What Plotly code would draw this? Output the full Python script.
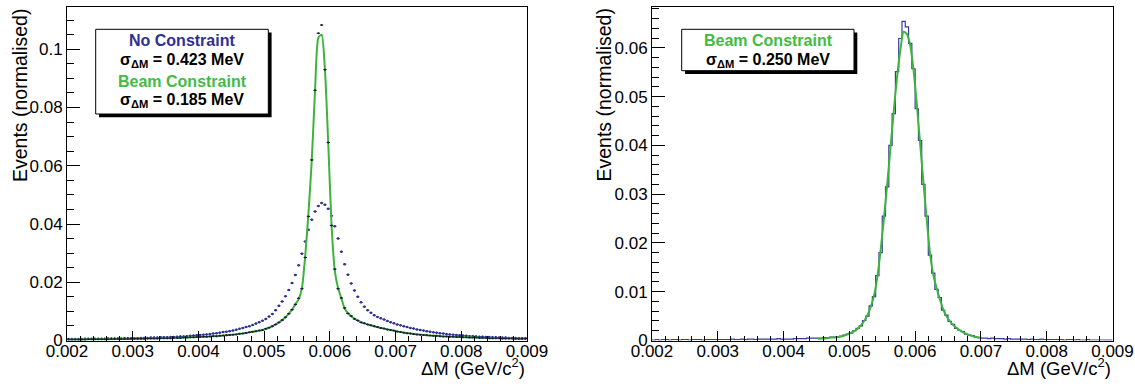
import numpy as np
import plotly.graph_objects as go

# ---------------- data ----------------
# histogram binning: 140 bins of 0.05 MeV between 0.002 and 0.009 GeV/c^2
bin_edges = np.round(np.linspace(0.002, 0.009, 141), 6)
bin_centers = np.round(0.5 * (bin_edges[:-1] + bin_edges[1:]), 7)

# Left panel: "No Constraint" (points)
no_constraint = [
    0.0005, 0.0005, 0.0005, 0.0005, 0.0005, 0.0006, 0.0006, 0.0006, 0.0006, 0.0006,
    0.0006, 0.0006, 0.0007, 0.0007, 0.0007, 0.0007, 0.0007, 0.0008, 0.0008, 0.0008,
    0.0008, 0.0008, 0.0009, 0.0009, 0.0009, 0.0010, 0.0010, 0.0010, 0.0011, 0.0011,
    0.0011, 0.0012, 0.0012, 0.0013, 0.0014, 0.0014, 0.0015, 0.0016, 0.0017, 0.0018,
    0.0019, 0.0020, 0.0021, 0.0022, 0.0024, 0.0025, 0.0027, 0.0029, 0.0030, 0.0032,
    0.0034, 0.0037, 0.0040, 0.0043, 0.0046, 0.0049, 0.0053, 0.0058, 0.0063, 0.0068,
    0.0074, 0.0082, 0.0091, 0.0104, 0.0119, 0.0134, 0.0152, 0.0173, 0.0197, 0.0225,
    0.0258, 0.0298, 0.0340, 0.0380, 0.0415, 0.0443, 0.0462, 0.0472, 0.0466, 0.0452,
    0.0428, 0.0392, 0.0350, 0.0305, 0.0262, 0.0226, 0.0196, 0.0172, 0.0150, 0.0131,
    0.0116, 0.0104, 0.0095, 0.0087, 0.0081, 0.0076, 0.0072, 0.0067, 0.0063, 0.0059,
    0.0055, 0.0052, 0.0049, 0.0046, 0.0043, 0.0041, 0.0038, 0.0036, 0.0034, 0.0032,
    0.0030, 0.0028, 0.0027, 0.0025, 0.0024, 0.0022, 0.0021, 0.0020, 0.0019, 0.0018,
    0.0017, 0.0016, 0.0015, 0.0015, 0.0014, 0.0013, 0.0013, 0.0012, 0.0012, 0.0011,
    0.0011, 0.0010, 0.0010, 0.0010, 0.0009, 0.0009, 0.0009, 0.0008, 0.0008, 0.0008,
]

# Left panel: "Beam Constraint" data points
beam_points = [
    0.0003, 0.0003, 0.0003, 0.0003, 0.0003, 0.0003, 0.0004, 0.0004, 0.0004, 0.0004,
    0.0004, 0.0004, 0.0004, 0.0005, 0.0005, 0.0005, 0.0005, 0.0005, 0.0005, 0.0006,
    0.0006, 0.0006, 0.0006, 0.0006, 0.0007, 0.0007, 0.0007, 0.0007, 0.0008, 0.0008,
    0.0008, 0.0008, 0.0009, 0.0009, 0.0009, 0.0010, 0.0010, 0.0011, 0.0011, 0.0012,
    0.0012, 0.0013, 0.0013, 0.0014, 0.0015, 0.0015, 0.0016, 0.0017, 0.0018, 0.0019,
    0.0020, 0.0021, 0.0023, 0.0024, 0.0026, 0.0028, 0.0030, 0.0032, 0.0034, 0.0036,
    0.0040, 0.0044, 0.0049, 0.0055, 0.0062, 0.0070, 0.0080, 0.0092, 0.0106, 0.0124,
    0.0145, 0.0178, 0.0285, 0.0426, 0.0620, 0.0859, 0.1055, 0.1083, 0.0930, 0.0680,
    0.0395, 0.0245, 0.0178, 0.0146, 0.0112, 0.0093, 0.0084, 0.0074, 0.0069, 0.0062,
    0.0059, 0.0055, 0.0052, 0.0049, 0.0046, 0.0043, 0.0041, 0.0038, 0.0036, 0.0034,
    0.0031, 0.0029, 0.0027, 0.0025, 0.0024, 0.0022, 0.0021, 0.0020, 0.0019, 0.0018,
    0.0017, 0.0016, 0.0016, 0.0015, 0.0014, 0.0014, 0.0013, 0.0013, 0.0012, 0.0012,
    0.0011, 0.0011, 0.0010, 0.0010, 0.0010, 0.0009, 0.0009, 0.0009, 0.0008, 0.0008,
    0.0008, 0.0008, 0.0007, 0.0007, 0.0007, 0.0007, 0.0006, 0.0006, 0.0006, 0.0006,
]

# Left panel: "Beam Constraint" fit curve (sampled at bin centres)
beam_fit_left = [
    0.0003, 0.0003, 0.0003, 0.0003, 0.0003, 0.0003, 0.0004, 0.0004, 0.0004, 0.0004,
    0.0004, 0.0004, 0.0004, 0.0005, 0.0005, 0.0005, 0.0005, 0.0005, 0.0005, 0.0006,
    0.0006, 0.0006, 0.0006, 0.0006, 0.0007, 0.0007, 0.0007, 0.0007, 0.0008, 0.0008,
    0.0008, 0.0008, 0.0009, 0.0009, 0.0009, 0.0010, 0.0010, 0.0011, 0.0011, 0.0012,
    0.0012, 0.0013, 0.0013, 0.0014, 0.0015, 0.0015, 0.0016, 0.0017, 0.0018, 0.0019,
    0.0020, 0.0021, 0.0023, 0.0024, 0.0026, 0.0028, 0.0030, 0.0032, 0.0034, 0.0036,
    0.0040, 0.0044, 0.0049, 0.0055, 0.0062, 0.0070, 0.0080, 0.0092, 0.0106, 0.0124,
    0.0142, 0.0180, 0.0290, 0.0440, 0.0620, 0.0860, 0.1040, 0.1050, 0.0930, 0.0680,
    0.0400, 0.0240, 0.0180, 0.0145, 0.0110, 0.0094, 0.0083, 0.0075, 0.0068, 0.0063,
    0.0059, 0.0055, 0.0052, 0.0049, 0.0046, 0.0043, 0.0041, 0.0038, 0.0036, 0.0034,
    0.0031, 0.0029, 0.0027, 0.0025, 0.0024, 0.0022, 0.0021, 0.0020, 0.0019, 0.0018,
    0.0017, 0.0016, 0.0016, 0.0015, 0.0014, 0.0014, 0.0013, 0.0013, 0.0012, 0.0012,
    0.0011, 0.0011, 0.0010, 0.0010, 0.0010, 0.0009, 0.0009, 0.0009, 0.0008, 0.0008,
    0.0008, 0.0008, 0.0007, 0.0007, 0.0007, 0.0007, 0.0006, 0.0006, 0.0006, 0.0006,
]

# Right panel: "Beam Constraint" histogram
beam_hist_right = [
    0.0001, 0.0002, 0.0001, 0.0002, 0.0002, 0.0001, 0.0002, 0.0002, 0.0001, 0.0002,
    0.0002, 0.0001, 0.0002, 0.0002, 0.0002, 0.0001, 0.0002, 0.0002, 0.0002, 0.0002,
    0.0002, 0.0002, 0.0002, 0.0002, 0.0003, 0.0002, 0.0002, 0.0003, 0.0002, 0.0003,
    0.0003, 0.0002, 0.0003, 0.0003, 0.0003, 0.0003, 0.0003, 0.0003, 0.0004, 0.0003,
    0.0003, 0.0003, 0.0003, 0.0004, 0.0004, 0.0004, 0.0004, 0.0005, 0.0005, 0.0005,
    0.0005, 0.0005, 0.0006, 0.0006, 0.0007, 0.0007, 0.0008, 0.0009, 0.0011, 0.0013,
    0.0015, 0.0020, 0.0025, 0.0030, 0.0041, 0.0050, 0.0071, 0.0090, 0.0133, 0.0180,
    0.0255, 0.0315, 0.0400, 0.0465, 0.0551, 0.0619, 0.0654, 0.0643, 0.0609, 0.0557,
    0.0475, 0.0410, 0.0320, 0.0255, 0.0175, 0.0138, 0.0105, 0.0088, 0.0062, 0.0052,
    0.0039, 0.0033, 0.0025, 0.0021, 0.0018, 0.0013, 0.0011, 0.0010, 0.0007, 0.0006,
    0.0005, 0.0005, 0.0004, 0.0005, 0.0004, 0.0004, 0.0004, 0.0003, 0.0004, 0.0003,
    0.0003, 0.0003, 0.0003, 0.0003, 0.0002, 0.0003, 0.0002, 0.0002, 0.0003, 0.0002,
    0.0002, 0.0002, 0.0002, 0.0002, 0.0002, 0.0001, 0.0002, 0.0002, 0.0001, 0.0002,
    0.0001, 0.0001, 0.0002, 0.0001, 0.0001, 0.0001, 0.0001, 0.0001, 0.0001, 0.0001,
]

# Right panel: fit curve, sampled at bin centres 0.004525 ... 0.007025
fit_right_x = bin_centers[50:101]
beam_fit_right = [
    0.0003, 0.0004, 0.0004, 0.0005, 0.0006, 0.0006, 0.0007, 0.0008, 0.0010, 0.0013,
    0.0016, 0.0019, 0.0024, 0.0031, 0.0040, 0.0052, 0.0069, 0.0092, 0.0130, 0.0185,
    0.0250, 0.0320, 0.0395, 0.0470, 0.0540, 0.0595, 0.0633, 0.0628, 0.0605, 0.0555,
    0.0485, 0.0405, 0.0325, 0.0250, 0.0180, 0.0135, 0.0108, 0.0085, 0.0064, 0.0050,
    0.0040, 0.0032, 0.0026, 0.0021, 0.0017, 0.0014, 0.0011, 0.0009, 0.0007, 0.0006,
    0.0005,
]

x_tick_vals = [0.002, 0.003, 0.004, 0.005, 0.006, 0.007, 0.008, 0.009]
x_tick_text = ["0.002", "0.003", "0.004", "0.005", "0.006", "0.007", "0.008", "0.009"]
y1_tick_vals = [0, 0.02, 0.04, 0.06, 0.08, 0.1]
y1_tick_text = ["0", "0.02", "0.04", "0.06", "0.08", "0.1"]
y2_tick_vals = [0, 0.01, 0.02, 0.03, 0.04, 0.05, 0.06]
y2_tick_text = ["0", "0.01", "0.02", "0.03", "0.04", "0.05", "0.06"]

# ---------------- style ----------------
W, H = 1135, 386
FONT = "Liberation Sans, Arial, Helvetica, sans-serif"
NAVY = "#303090"
GREEN = "#3cb43c"
TEXT_GREEN = "#44bb44"


def px(x):
    return x / W


def py(y):
    return 1 - y / H


L_DOM = [px(67), px(527)]
R_DOM = [px(652), px(1112.5)]
Y_DOM = [py(340.5), py(7.3)]

fig = go.Figure()

# left panel
fig.add_trace(go.Scatter(
    x=bin_centers, y=no_constraint, mode="markers", xaxis="x", yaxis="y",
    marker=dict(color=NAVY, size=2.5, symbol="circle"),
    error_x=dict(type="constant", value=0.000025, color=NAVY, thickness=1, width=0),
    error_y=dict(type="constant", value=0.0003, color=NAVY, thickness=1, width=0),
))
fig.add_trace(go.Scatter(
    x=bin_centers, y=beam_fit_left, mode="lines", xaxis="x", yaxis="y",
    line=dict(color=GREEN, width=2, shape="spline", smoothing=0.6),
))
fig.add_trace(go.Scatter(
    x=bin_centers, y=beam_points, mode="markers", xaxis="x", yaxis="y",
    marker=dict(color="#1a1a3a", size=2, symbol="circle"),
    error_x=dict(type="constant", value=0.000025, color="#1a1a3a", thickness=1, width=0),
))

# right panel
hist_x = list(bin_edges)
hist_y = list(beam_hist_right) + [beam_hist_right[-1]]
fig.add_trace(go.Scatter(
    x=hist_x, y=hist_y, mode="lines", xaxis="x2", yaxis="y2",
    line=dict(color="#3a3a9c", width=1.2, shape="hv"),
))
fig.add_trace(go.Scatter(
    x=fit_right_x, y=beam_fit_right, mode="lines", xaxis="x2", yaxis="y2",
    line=dict(color=GREEN, width=2, shape="spline", smoothing=0.6),
))

axis_common = dict(
    showline=True, linecolor="black", linewidth=1, mirror=True, automargin=False,
    showgrid=False, zeroline=False, ticks="inside", tickcolor="black",
    tickwidth=1, tickfont=dict(family=FONT, size=17, color="black"),
)

fig.update_layout(
    template="none",
    width=W, height=H,
    margin=dict(l=0, r=0, t=0, b=0, autoexpand=False),
    paper_bgcolor="white", plot_bgcolor="white",
    showlegend=False,
    xaxis=dict(domain=L_DOM, range=[0.002, 0.009], anchor="y",
               tickmode="array", tickvals=x_tick_vals, ticktext=x_tick_text,
               ticklen=10, ticklabelstandoff=-5,
               minor=dict(ticks="inside", ticklen=5, tickmode="linear", tick0=0.002,
                          dtick=0.0002, tickcolor="black", showgrid=False),
               **axis_common),
    yaxis=dict(domain=Y_DOM, range=[0, 0.1144], anchor="x",
               tickmode="array", tickvals=y1_tick_vals, ticktext=y1_tick_text,
               ticklen=13,
               minor=dict(ticks="inside", ticklen=7, tickmode="linear", tick0=0,
                          dtick=0.005, tickcolor="black", showgrid=False),
               **axis_common),
    xaxis2=dict(domain=R_DOM, range=[0.002, 0.009], anchor="y2",
                tickmode="array", tickvals=x_tick_vals, ticktext=x_tick_text,
                ticklen=10, ticklabelstandoff=-5,
                minor=dict(ticks="inside", ticklen=5, tickmode="linear", tick0=0.002,
                           dtick=0.0002, tickcolor="black", showgrid=False),
                **axis_common),
    yaxis2=dict(domain=Y_DOM, range=[0, 0.0683], anchor="x2",
                tickmode="array", tickvals=y2_tick_vals, ticktext=y2_tick_text,
                ticklen=13,
                minor=dict(ticks="inside", ticklen=7, tickmode="linear", tick0=0,
                           dtick=0.002, tickcolor="black", showgrid=False),
                **axis_common),
)

shapes = []
annotations = []


def text_box(x0, y0, x1, y1):
    shapes.append(dict(type="rect", xref="paper", yref="paper",
                       x0=px(x0 + 3.3), x1=px(x1 + 3.3), y0=py(y1 + 3.3), y1=py(y0 + 3.3),
                       fillcolor="black", line=dict(width=0), layer="above"))
    shapes.append(dict(type="rect", xref="paper", yref="paper",
                       x0=px(x0), x1=px(x1), y0=py(y1), y1=py(y0),
                       fillcolor="white", line=dict(color="black", width=1), layer="above"))


def label(x, y, text, color="black", size=16):
    annotations.append(dict(xref="paper", yref="paper", x=px(x), y=py(y),
                            xanchor="center", yanchor="middle", showarrow=False,
                            text=text, font=dict(family=FONT, size=size, color=color)))


text_box(95.7, 29.3, 268.3, 114)
label(182, 40, "<b>No Constraint</b>", NAVY)
label(182, 60, "<b>σ<sub>ΔM</sub> = 0.423 MeV</b>")
label(182, 81.5, "<b>Beam Constraint</b>", TEXT_GREEN)
label(182, 100, "<b>σ<sub>ΔM</sub> = 0.185 MeV</b>")

text_box(681.7, 29.3, 854, 70.7)
label(768, 40, "<b>Beam Constraint</b>", TEXT_GREEN)
label(768, 60, "<b>σ<sub>ΔM</sub> = 0.250 MeV</b>")

for xc in (20.5, 604):
    annotations.append(dict(xref="paper", yref="paper", x=px(xc), y=py(7),
                            xanchor="center", yanchor="top", showarrow=False,
                            textangle=-90, text="Events (normalised)",
                            font=dict(family=FONT, size=19.5, color="black")))
for xr in (527, 1112.5):
    annotations.append(dict(xref="paper", yref="paper", x=px(xr), y=py(367),
                            xanchor="right", yanchor="middle", showarrow=False,
                            text="ΔM (GeV/c<sup>2</sup>)",
                            font=dict(family=FONT, size=18.5, color="black")))

fig.update_layout(shapes=shapes, annotations=annotations)

fig.write_html("out.html", config={"displayModeBar": False},
               post_script="document.body.style.margin='0';")
